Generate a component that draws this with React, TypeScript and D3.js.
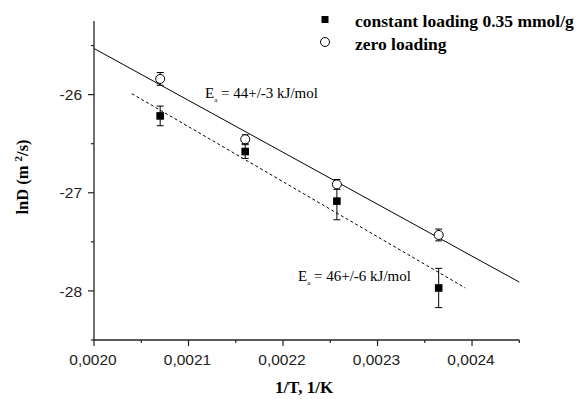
import React from "react";
import * as d3 from "d3";

const invT = [0.00207, 0.00216, 0.002257, 0.0023647];
const zeroLoading = [-25.84, -26.455, -26.915, -27.43];
const zeroErr = [0.065, 0.045, 0.05, 0.06];
const constLoading = [-26.217, -26.58, -27.085, -27.97];
const constErr = [0.1, 0.07, 0.19, 0.2];
const fitZero = [[0.0020, -25.53], [0.00245, -27.91]];
const fitConst = [[0.00204, -25.99], [0.002393, -27.97]];
const xTicks = [0.0020, 0.0021, 0.0022, 0.0023, 0.0024];
const yTicks = [-26, -27, -28];
const legendLabels = ["constant loading 0.35 mmol/g", "zero loading"];

export default function App() {
  const W = 578, H = 399;
  const x = d3.scaleLinear().domain([0.0020, 0.00245]).range([94, 519.3]);
  const y = d3.scaleLinear().domain([-28.5, -25.25]).range([340, 21]);
  const line = d3.line<number[]>().x(d => x(d[0])).y(d => y(d[1]));
  const xMinor = d3.range(0, 10).map(i => 0.0020 + i * 0.00005).filter(v => v <= 0.00245001);
  const yMinor = d3.range(0, 7).map(i => -28.5 + i * 0.5);
  const fmt = (v: number) => v.toFixed(4).replace(".", ",");
  const serif = "'Liberation Serif', 'Times New Roman', serif";
  const sans = "'Liberation Sans', Arial, sans-serif";
  const cap = 3.5;
  return (
    <svg width={W} height={H} style={{ position: "absolute", left: 0, top: 0, background: "#fff" }}>
      {/* fit lines */}
      <path d={line(fitZero as any) || ""} stroke="#000" strokeWidth={1} fill="none" />
      <path d={line(fitConst as any) || ""} stroke="#000" strokeWidth={1} fill="none" strokeDasharray="3,2.5" />
      {/* axes */}
      <line x1={x(0.0020)} x2={x(0.0020)} y1={y(-25.25)} y2={y(-28.5)} stroke="#222" strokeWidth={1.3} />
      <line x1={x(0.0020)} x2={x(0.00245)} y1={y(-28.5)} y2={y(-28.5)} stroke="#222" strokeWidth={1.3} />
      {yMinor.map((v, i) => {
        const major = Math.abs(v - Math.round(v)) < 1e-9;
        return <line key={"ym" + i} x1={x(0.0020) - (major ? 6 : 3)} x2={x(0.0020)} y1={y(v)} y2={y(v)} stroke="#222" strokeWidth={1.2} />;
      })}
      {xMinor.map((v, i) => {
        const major = i % 2 === 0;
        return <line key={"xm" + i} x1={x(v)} x2={x(v)} y1={y(-28.5)} y2={y(-28.5) + (major ? 6 : 3)} stroke="#222" strokeWidth={1.2} />;
      })}
      {yTicks.map(v => (
        <text key={"yt" + v} x={82} y={y(v)} dy="0.36em" textAnchor="end" fontFamily={sans} fontSize={15.5} fill="#222">{String(v)}</text>
      ))}
      {xTicks.map(v => (
        <text key={"xt" + v} x={x(v) - 1} y={365} textAnchor="middle" fontFamily={sans} fontSize={15.5} fill="#222">{fmt(v)}</text>
      ))}
      {/* axis titles */}
      <text x={304} y={393} textAnchor="middle" fontFamily={serif} fontWeight="bold" fontSize={17}>1/T, 1/K</text>
      <text transform={`translate(28,177) rotate(-90)`} textAnchor="middle" fontFamily={serif} fontWeight="bold" fontSize={16.5}>
        lnD (m <tspan dy="-6" fontSize={11}>2</tspan><tspan dy="6">/s)</tspan>
      </text>
      {/* error bars */}
      {invT.map((t, i) => (
        <g key={"ez" + i} stroke="#000" strokeWidth={1}>
          <line x1={x(t)} x2={x(t)} y1={y(zeroLoading[i] + zeroErr[i])} y2={y(zeroLoading[i] - zeroErr[i])} />
          <line x1={x(t) - cap} x2={x(t) + cap} y1={y(zeroLoading[i] + zeroErr[i])} y2={y(zeroLoading[i] + zeroErr[i])} />
          <line x1={x(t) - cap} x2={x(t) + cap} y1={y(zeroLoading[i] - zeroErr[i])} y2={y(zeroLoading[i] - zeroErr[i])} />
        </g>
      ))}
      {invT.map((t, i) => (
        <g key={"ec" + i} stroke="#000" strokeWidth={1}>
          <line x1={x(t)} x2={x(t)} y1={y(constLoading[i] + constErr[i])} y2={y(constLoading[i] - constErr[i])} />
          <line x1={x(t) - cap} x2={x(t) + cap} y1={y(constLoading[i] + constErr[i])} y2={y(constLoading[i] + constErr[i])} />
          <line x1={x(t) - cap} x2={x(t) + cap} y1={y(constLoading[i] - constErr[i])} y2={y(constLoading[i] - constErr[i])} />
        </g>
      ))}
      {/* markers */}
      {invT.map((t, i) => (
        <circle key={"cz" + i} cx={x(t)} cy={y(zeroLoading[i])} r={4.5} fill="#fff" stroke="#000" strokeWidth={1} />
      ))}
      {invT.map((t, i) => (
        <rect key={"rc" + i} x={x(t) - 3.8} y={y(constLoading[i]) - 3.8} width={7.6} height={7.6} fill="#000" />
      ))}
      {/* annotations */}
      <text x={205} y={98} fontFamily={serif} fontSize={15}>
        E<tspan dy="4" fontSize={7}>a</tspan><tspan dy="-4"> = 44+/-3 kJ/mol</tspan>
      </text>
      <text x={298} y={281} fontFamily={serif} fontSize={15}>
        E<tspan dy="4" fontSize={7}>a</tspan><tspan dy="-4"> = 46+/-6 kJ/mol</tspan>
      </text>
      {/* legend */}
      <rect x={325 - 3.5} y={19.5 - 3.5} width={7} height={7} fill="#000" />
      <circle cx={325} cy={42} r={4.5} fill="#fff" stroke="#000" strokeWidth={1} />
      <text x={355} y={27} fontFamily={serif} fontWeight="bold" fontSize={17.5}>{legendLabels[0]}</text>
      <text x={355} y={50} fontFamily={serif} fontWeight="bold" fontSize={17.5}>{legendLabels[1]}</text>
    </svg>
  );
}
